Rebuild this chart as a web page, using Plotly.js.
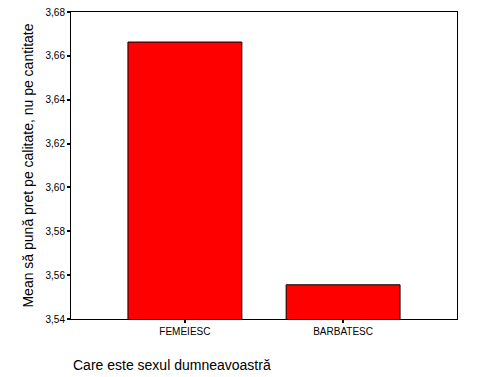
<!DOCTYPE html>
<html><head><meta charset="utf-8">
<script src="https://cdn.plot.ly/plotly-3.0.1.min.js"></script>
<style>body{margin:0;padding:0;background:#fff}</style>
</head><body>
<div id="chart" style="width:482px;height:377px"></div>
<script>
const categories = ["FEMEIESC", "BARBATESC"];
const means = [3.6663, 3.5556];
const yTickVals = [3.54, 3.56, 3.58, 3.60, 3.62, 3.64, 3.66, 3.68];
const yTickText = ["3,54", "3,56", "3,58", "3,60", "3,62", "3,64", "3,66", "3,68"];
const yTitle = "Mean să pună pret pe calitate, nu pe cantitate";
const xTitle = "Care este sexul dumneavoastră";

const font = "Liberation Sans, Arial, sans-serif";
Plotly.newPlot("chart", [{
  type: "bar",
  x: [0, 1],
  y: means,
  width: 0.72,
  marker: {color: "#ff0000", line: {color: "#000", width: 1}},
  hoverinfo: "none"
}], {
  width: 482, height: 377,
  margin: {l: 71, r: 25, t: 12, b: 58},
  paper_bgcolor: "#fff", plot_bgcolor: "#fff",
  showlegend: false,
  font: {family: font, color: "#000"},
  xaxis: {
    range: [-0.72, 1.72], tickvals: [0, 1], ticktext: categories,
    showgrid: false, zeroline: false, showline: true, mirror: true,
    linecolor: "#000", linewidth: 1, ticks: "outside", ticklen: 3, tickwidth: 2,
    tickcolor: "#000", tickfont: {size: 10, family: font}
  },
  yaxis: {
    range: [3.54, 3.68], tickvals: yTickVals, ticktext: yTickText,
    showgrid: false, zeroline: false, showline: true, mirror: true,
    linecolor: "#000", linewidth: 1, ticks: "outside", ticklen: 3, tickwidth: 2,
    tickcolor: "#000", tickfont: {size: 10, family: font},
    title: {text: yTitle, font: {size: 14, family: font}, standoff: 8}
  },
  annotations: [{
    text: xTitle, xref: "paper", yref: "paper", x: 0, y: 0,
    xanchor: "left", yanchor: "middle", yshift: -46, showarrow: false,
    font: {size: 14, family: font, color: "#000"}
  }]
}, {staticPlot: true});
</script>
</body></html>
